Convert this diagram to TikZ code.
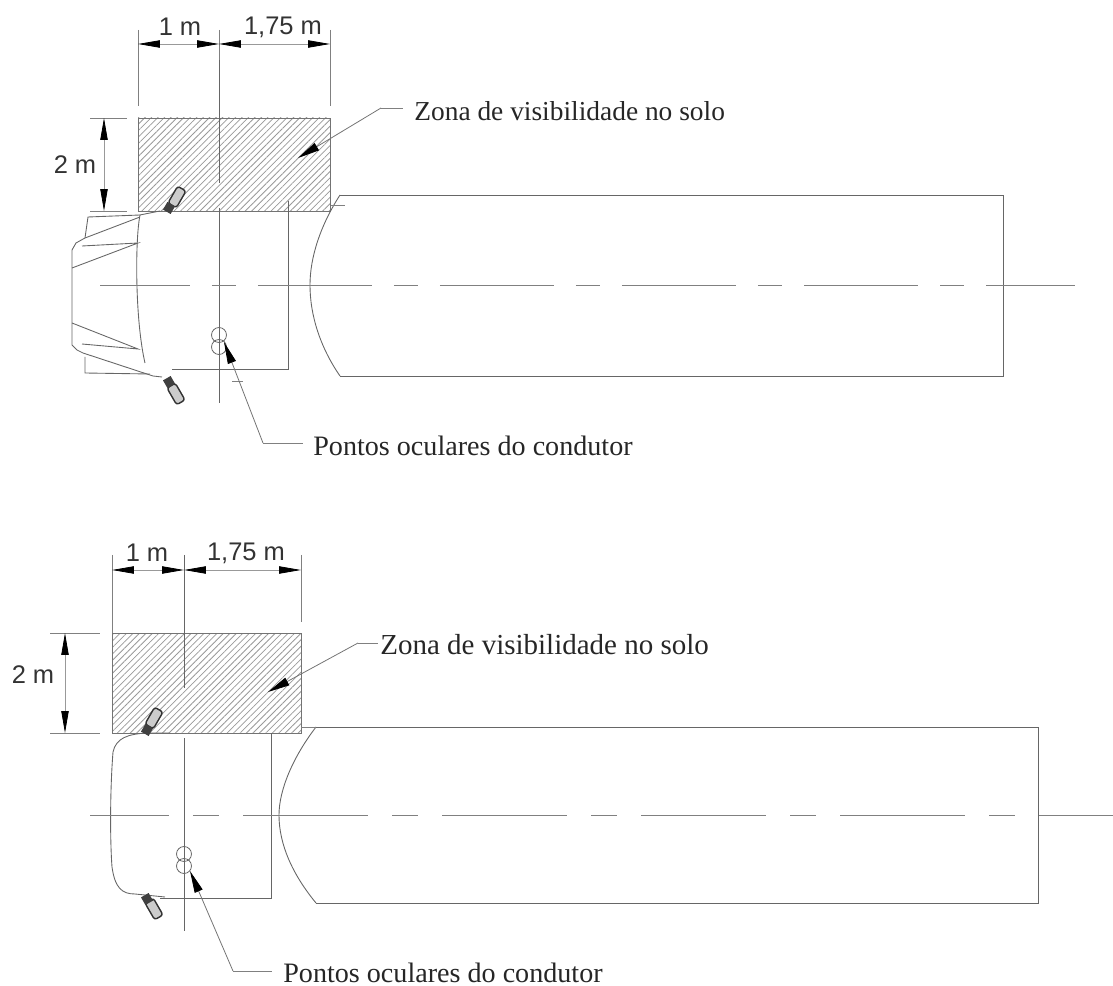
\documentclass[tikz,border=0pt]{standalone}
\usepackage{fontspec}
\setmainfont{Liberation Serif}
\newfontfamily\dimfont{Liberation Sans}
\usetikzlibrary{arrows.meta,patterns.meta,positioning}

\begin{document}
\begin{tikzpicture}[
		x=0.02cm, y=-0.02cm,
		outline/.style = {draw=black!60, line width=0.5pt},
		thin line/.style = {draw=black!50, line width=0.45pt},
		hatched/.style = {draw=black!55, line width=0.5pt, pattern={Lines[angle=45,distance=2.6pt,line width=0.45pt]}, pattern color=black!40},
		dimension/.style = {draw=black!40, line width=0.45pt, {Triangle[length=12.5pt,width=4.2pt,black]}-{Triangle[length=12.5pt,width=4.2pt,black]}},
		pointer/.style = {draw=black!55, line width=0.45pt, -{Triangle[length=12.5pt,width=4.8pt,black]}},
		dimtext/.style = {inner sep=0pt, font=\dimfont\fontsize{14.5}{16}\selectfont, text=black!80},
		note/.style = {inner sep=0pt, anchor=west, font=\fontsize{16}{18}\selectfont, text=black!85},
		eye/.style = {circle, draw=black!60, line width=0.45pt, minimum size=8.5pt, inner sep=0pt},
		mirror/.style = {rectangle, rounded corners=1.5pt, draw=black!80, fill=black!20, line width=0.8pt, minimum width=11pt, minimum height=5.5pt, inner sep=0pt},
		mirrorbase/.style = {rectangle, fill=black!75, minimum width=5pt, minimum height=5pt, inner sep=0pt}
		]
		\useasboundingbox (0,0) rectangle (1113,986);

		% Upper truck
		\path[hatched] (138,118) rectangle (330,211);
		\path[outline] (340,195) -- (1003,195) -- (1003,376) -- (340,376);
		\path[outline] (340,195) .. controls (320,226) and (310,258) .. (310,285) .. controls (310,315) and (320,347) .. (340,376);
		\path[thin line] (331,205) -- (345,205);
		\path[outline] (288,201) -- (288,369) -- (172,369);
		\path[thin line] (232,381) -- (243,381);
		\path[outline] (160,211) -- (140,215) .. controls (135,240) and (135,320) .. (145,363);
		\path[outline] (140,215) -- (88,217) -- (85,238);
		\path[outline] (140,217) -- (85,238) -- (76,243) -- (72,250) -- (72,345) -- (77,350) -- (83,353) -- (153,376) -- (162,377);
		\path[outline] (85,357) -- (85,373) -- (150,374);
		\path[outline] (72,268) -- (138,243) -- (82,246);
		\path[outline] (72,323) -- (138,349) -- (82,344);
		\path[outline] (219,60) -- (219,183);
		\path[outline] (219,208) -- (219,403);
		\path[thin line, dash pattern=on 64.9pt off 12.5pt on 13.7pt off 12.5pt, dash phase=13.7pt] (100,285) -- (1075,285);
		\node[eye] (eyeA1) at (219,335) {};
		\node[eye] (eyeA2) at (219,347) {};
		\node[mirror, rotate=60] (mirrorA1) at (177,197) {};
		\node[mirrorbase, rotate=60] (baseA1) at (169,208) {};
		\node[mirror, rotate=-60] (mirrorA2) at (176,394) {};
		\node[mirrorbase, rotate=-60] (baseA2) at (169,382) {};

		% Upper dimensions
		\coordinate (dimAl) at (138,44);
		\coordinate (dimAm) at (219,44);
		\coordinate (dimAr) at (330,44);
		\coordinate (dimAt) at (104,118);
		\coordinate (dimAb) at (104,211);
		\draw[thin line] (138,30) -- (138,106);
		\draw[thin line] (219,30) -- (219,60);
		\draw[thin line] (330,30) -- (330,106);
		\draw[thin line] (90,118) -- (127,118);
		\draw[thin line] (90,211) -- (127,211);
		\draw[dimension] (dimAl) -- (dimAm);
		\draw[dimension] (dimAm) -- (dimAr);
		\draw[dimension] (dimAt) -- (dimAb);
		\node[dimtext] (oneA) at (180,27) {1 m};
		\node[dimtext] (restA) at (283,27) {1,75 m};
		\node[dimtext] (twoA) at (75,165) {2 m};

		% Upper labels
		\node[note, font=\fontsize{15.6}{18}\selectfont] (zonetextA) at (414,111) {Zona de visibilidade no solo};
		\node[note] (eyetextA) at (313,446) {Pontos oculares do condutor};
		\coordinate (zonekneeA) at (381,108);
		\coordinate (zonetipA) at (298,158);
		\coordinate (eyekneeA) at (263,443);
		\coordinate (eyetipA) at (224,342);
		\draw[thin line] (zonekneeA) -- ++(22,0);
		\draw[pointer] (zonekneeA) -- (zonetipA);
		\draw[thin line] (eyekneeA) -- ++(40,0);
		\draw[pointer] (eyekneeA) -- (eyetipA);

		% Lower truck
		\path[hatched] (112,633) rectangle (301,733);
		\path[outline] (316,727) -- (1038,727) -- (1038,903) -- (316,903);
		\path[outline] (316,727) .. controls (293,757) and (279,790) .. (279,815) .. controls (279,845) and (293,875) .. (316,903);
		\path[thin line] (301,727) -- (316,727);
		\path[outline] (271,733) -- (271,898) -- (160,898);
		\path[outline] (170,733) -- (147,733) .. controls (128,734) and (116,738) .. (113,752) .. controls (110,790) and (110,840) .. (112,867) .. controls (115,888) and (122,894) .. (135,894) -- (165,897);
		\path[outline] (184,555) -- (184,688);
		\path[outline] (184,738) -- (184,931);
		\path[thin line, dash pattern=on 71.1pt off 13.7pt on 14.8pt off 13.7pt, dash phase=26.2pt] (90,815) -- (1113,815);
		\node[eye] (eyeB1) at (184,854) {};
		\node[eye] (eyeB2) at (184,866) {};
		\node[mirror, rotate=60] (mirrorB1) at (154,718) {};
		\node[mirrorbase, rotate=60] (baseB1) at (147,730) {};
		\node[mirror, rotate=-60] (mirrorB2) at (154,909) {};
		\node[mirrorbase, rotate=-60] (baseB2) at (147,899) {};

		% Lower dimensions
		\coordinate (dimBl) at (112,570);
		\coordinate (dimBm) at (184,570);
		\coordinate (dimBr) at (301,570);
		\coordinate (dimBt) at (65,633);
		\coordinate (dimBb) at (65,733);
		\draw[thin line] (112,555) -- (112,633);
		\draw[thin line] (301,555) -- (301,622);
		\draw[thin line] (50,633) -- (100,633);
		\draw[thin line] (50,733) -- (100,733);
		\draw[dimension] (dimBl) -- (dimBm);
		\draw[dimension] (dimBm) -- (dimBr);
		\draw[dimension] (dimBt) -- (dimBb);
		\node[dimtext] (oneB) at (147,553) {1 m};
		\node[dimtext] (restB) at (246,553) {1,75 m};
		\node[dimtext] (twoB) at (33,675) {2 m};

		% Lower labels
		\node[note, font=\fontsize{16.5}{18}\selectfont] (zonetextB) at (380,645) {Zona de visibilidade no solo};
		\node[note] (eyetextB) at (283,973) {Pontos oculares do condutor};
		\coordinate (zonekneeB) at (358,643);
		\coordinate (zonetipB) at (268,692);
		\coordinate (eyekneeB) at (233,971);
		\coordinate (eyetipB) at (190,871);
		\draw[thin line] (zonekneeB) -- ++(20,0);
		\draw[pointer] (zonekneeB) -- (zonetipB);
		\draw[thin line] (eyekneeB) -- ++(39,0);
		\draw[pointer] (eyekneeB) -- (eyetipB);
	\end{tikzpicture}
\end{document}
